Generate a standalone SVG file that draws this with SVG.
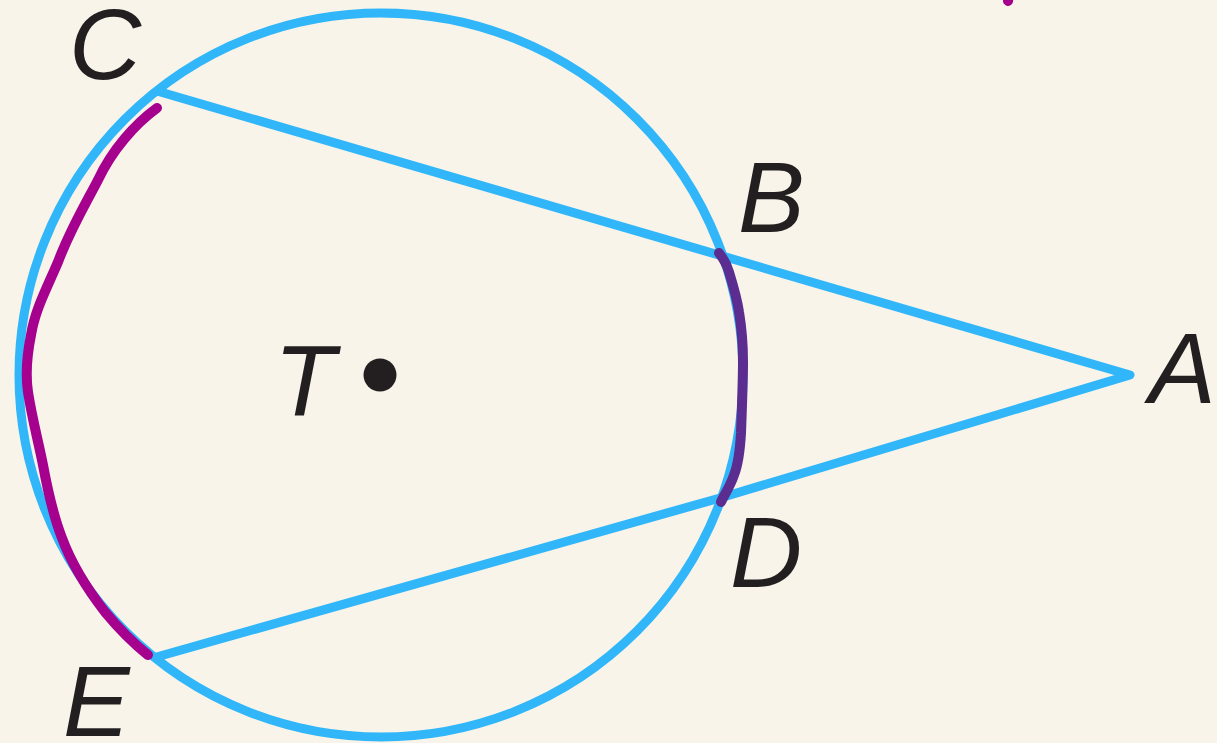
<svg xmlns="http://www.w3.org/2000/svg" width="1217" height="743" viewBox="0 0 1217 743">
  <style>
    .bg { fill: #f8f4ea; }
    .geo { fill: none; stroke: #30b6f9; stroke-width: 9; stroke-linejoin: round; }
    .hl1 { fill: none; stroke: #a5008e; stroke-width: 10; stroke-linecap: round; stroke-linejoin: round; }
    .hl2 { fill: none; stroke: #5b2d90; stroke-width: 10; stroke-linecap: round; stroke-linejoin: round; }
    .lbl { font-family: "Liberation Sans", Arial, sans-serif; font-style: italic; font-size: 100px; fill: #231f20; }
  </style>
  <rect class="bg" x="0" y="0" width="1217" height="743"/>
  <g id="circle-T">
    <circle class="geo" cx="381" cy="375" r="362"/>
    <circle cx="380" cy="375" r="16.5" fill="#231f20"/>
  </g>
  <g id="connectors">
    <polyline class="geo" points="157,91 1130,375 720,498 153,658"/>
  </g>
  <g id="highlight-CE">
    <path class="hl1" d="M157,108 C135,124 112,150 98,180 C85,205 70,230 58,262 C46,290 35,310 31,335 C27,355 25,372 28,392 C32,418 38,440 43,465 C48,492 53,515 62,538 C72,565 88,590 105,612 C120,630 133,643 148,655"/>
  </g>
  <g id="highlight-BD">
    <path class="hl2" d="M719,253 C723,258 727,265 729,272 C733,285 737,298 739,312 C742,330 743,345 743,362 C743,380 742,405 741,433 C740,450 738,465 734,475 C730,487 724,495 721,502"/>
  </g>
  <g id="mark-top">
    <line class="hl1" x1="1010" y1="-10" x2="1008" y2="1"/>
  </g>
  <g id="labels">
    <text class="lbl" x="69" y="79">C</text>
    <text class="lbl" x="738" y="232">B</text>
    <text class="lbl" x="274" y="415">T</text>
    <text class="lbl" x="1149" y="403">A</text>
    <text class="lbl" x="730" y="587">D</text>
    <text class="lbl" x="63" y="736">E</text>
  </g>
</svg>
